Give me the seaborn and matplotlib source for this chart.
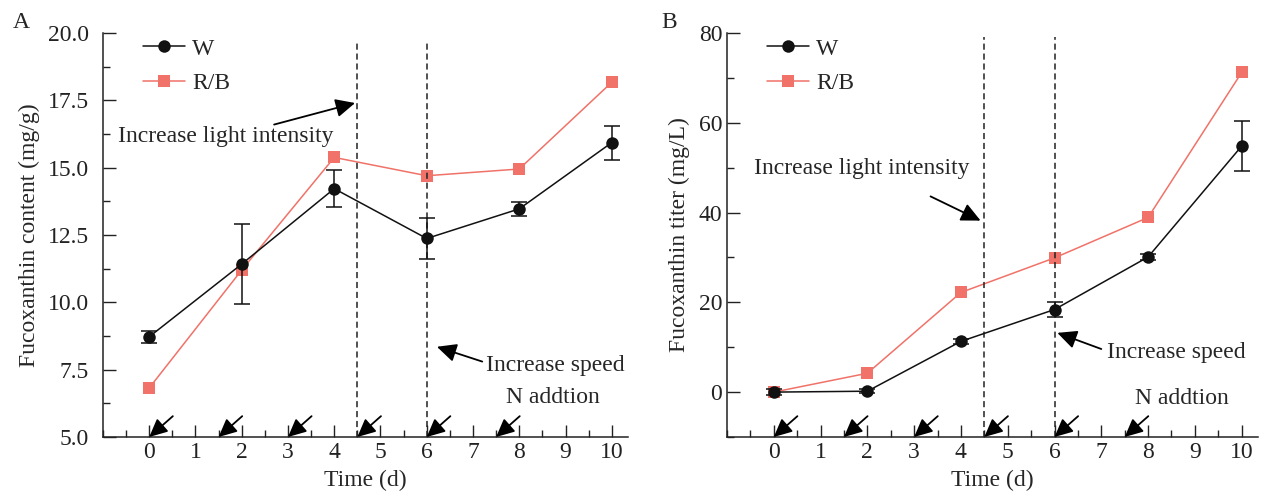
import seaborn as sns
import pandas as pd
import matplotlib.pyplot as plt
from matplotlib.ticker import MultipleLocator

# sampling days
days = [0, 2, 4, 6, 8, 10]

# panel A: fucoxanthin content (mg/g)
w_content = [8.72, 11.42, 14.22, 12.37, 13.47, 15.93]
w_content_err = [0.22, 1.5, 0.68, 0.76, 0.27, 0.63]
rb_content = [6.82, 11.2, 15.38, 14.7, 14.95, 18.17]

# panel B: fucoxanthin titer (mg/L)
w_titer = [0.0, 0.2, 11.3, 18.4, 30.1, 54.8]
w_titer_err = [0.6, 0.5, 0.6, 1.6, 0.6, 5.5]
rb_titer = [0.0, 4.2, 22.2, 29.9, 38.9, 71.2]

groups = ['W', 'R/B']
colors = {'W': '#111111', 'R/B': '#F07268'}
markers = {'W': 'o', 'R/B': 's'}

# operation times
n_addition_days = [0, 1.5, 3, 4.5, 6, 7.5]
shift_days = [4.5, 6]


def make_df(w_vals, rb_vals):
    return pd.DataFrame({
        'day': days + days,
        'value': w_vals + rb_vals,
        'group': ['W'] * len(days) + ['R/B'] * len(days),
    })


sns.set_theme(style="ticks")
plt.rcParams['font.family'] = ['Liberation Serif', 'DejaVu Serif']
plt.rcParams['font.size'] = 17

fig = plt.figure(figsize=(12.65, 4.93), dpi=100)
ax_a = fig.add_axes([0.0814, 0.1136, 0.415, 0.8195])
ax_b = fig.add_axes([0.5747, 0.1136, 0.4198, 0.8195])

arrow_kw = dict(arrowstyle='-|>,head_length=0.42,head_width=0.2', color='black',
                lw=1.3, shrinkA=0, shrinkB=0)


def draw_panel(ax, df, w_err, ylim, ymajor, yminor, yfmt, ylabel, ypad,
               light_txt, light_tail, light_head,
               speed_txt, speed_tail, speed_head, n_txt, line_top):
    sns.lineplot(data=df, x='day', y='value', hue='group', style='group',
                 hue_order=groups, style_order=groups, palette=colors,
                 markers=markers, dashes=False, markersize=9,
                 markeredgewidth=0, linewidth=1.1, ax=ax, legend=True)
    ax.lines[0].set_zorder(4)  # W on top
    ax.errorbar(days, df[df.group == 'W'].value, yerr=w_err, fmt='none',
                ecolor='#111111', elinewidth=1.1, capsize=6, capthick=1.1, zorder=4)

    for d in shift_days:
        ax.plot([d, d], [ylim[0], line_top], ls=(0, (4, 2.5)), color='#222222', lw=1.1)

    ax.set_xlim(-1, 10.35)
    ax.set_ylim(*ylim)
    ax.set_xticks([0, 1, 2, 3, 4, 5, 6, 7, 8, 9, 10])
    ax.xaxis.set_minor_locator(MultipleLocator(0.5))
    ax.yaxis.set_major_locator(MultipleLocator(ymajor))
    ax.yaxis.set_minor_locator(MultipleLocator(yminor))
    ax.yaxis.set_major_formatter(yfmt)
    ax.tick_params(which='major', direction='in', length=9, width=1, labelsize=17,
                   color='#222222', labelcolor='#222222')
    ax.tick_params(which='minor', direction='in', length=5, width=1, color='#222222')
    ax.tick_params(axis='y', which='major', pad=ypad)
    sns.despine(ax=ax)
    for s in ['left', 'bottom']:
        ax.spines[s].set_color('#222222')
        ax.spines[s].set_linewidth(1.1)

    ax.set_xlabel('Time (d)', fontsize=17, labelpad=5)
    ax.set_ylabel(ylabel, fontsize=17, labelpad=6)

    # N addition arrows along the bottom
    for d in n_addition_days:
        ax.annotate('', xy=(d, ylim[0]), xytext=(17, 15), textcoords='offset points',
                    arrowprops=dict(mutation_scale=26, **arrow_kw))

    ax.text(*light_txt, 'Increase light intensity', ha='center', va='center', fontsize=17)
    ax.annotate('', xy=light_head, xytext=light_tail,
                arrowprops=dict(mutation_scale=28, **arrow_kw))
    ax.text(*speed_txt, 'Increase speed', ha='center', va='center', fontsize=17)
    ax.annotate('', xy=speed_head, xytext=speed_tail,
                arrowprops=dict(mutation_scale=28, **arrow_kw))
    ax.text(*n_txt, 'N addtion', ha='center', va='center', fontsize=17)

    handles, labels = ax.get_legend_handles_labels()
    ax.legend(handles, labels, loc='upper left', bbox_to_anchor=(0.035, 1.04),
              frameon=False, fontsize=17, handlelength=1.8, labelspacing=0.55,
              handletextpad=0.3)


draw_panel(ax_a, make_df(w_content, rb_content), w_content_err,
           (5, 20), 2.5, 1.25, '{x:.1f}', 'Fucoxanthin content (mg/g)', 10,
           (1.66, 16.15), (2.7, 16.6), (4.45, 17.4),
           (8.77, 7.67), (7.2, 7.8), (6.22, 8.35), (8.73, 6.45), 19.7)

draw_panel(ax_b, make_df(w_titer, rb_titer), w_titer_err,
           (-10, 80), 20, 10, '{x:.0f}', 'Fucoxanthin titer (mg/L)', 3.5,
           (1.88, 49.8), (3.35, 43.6), (4.42, 38.2),
           (8.6, 8.9), (7.0, 9.6), (6.06, 13.2), (8.72, -1.5), 79)

fig.text(0.010, 0.955, 'A', fontsize=17, ha='left', va='center')
fig.text(0.523, 0.955, 'B', fontsize=17, ha='left', va='center')

fig.savefig('out.png', dpi=100)
